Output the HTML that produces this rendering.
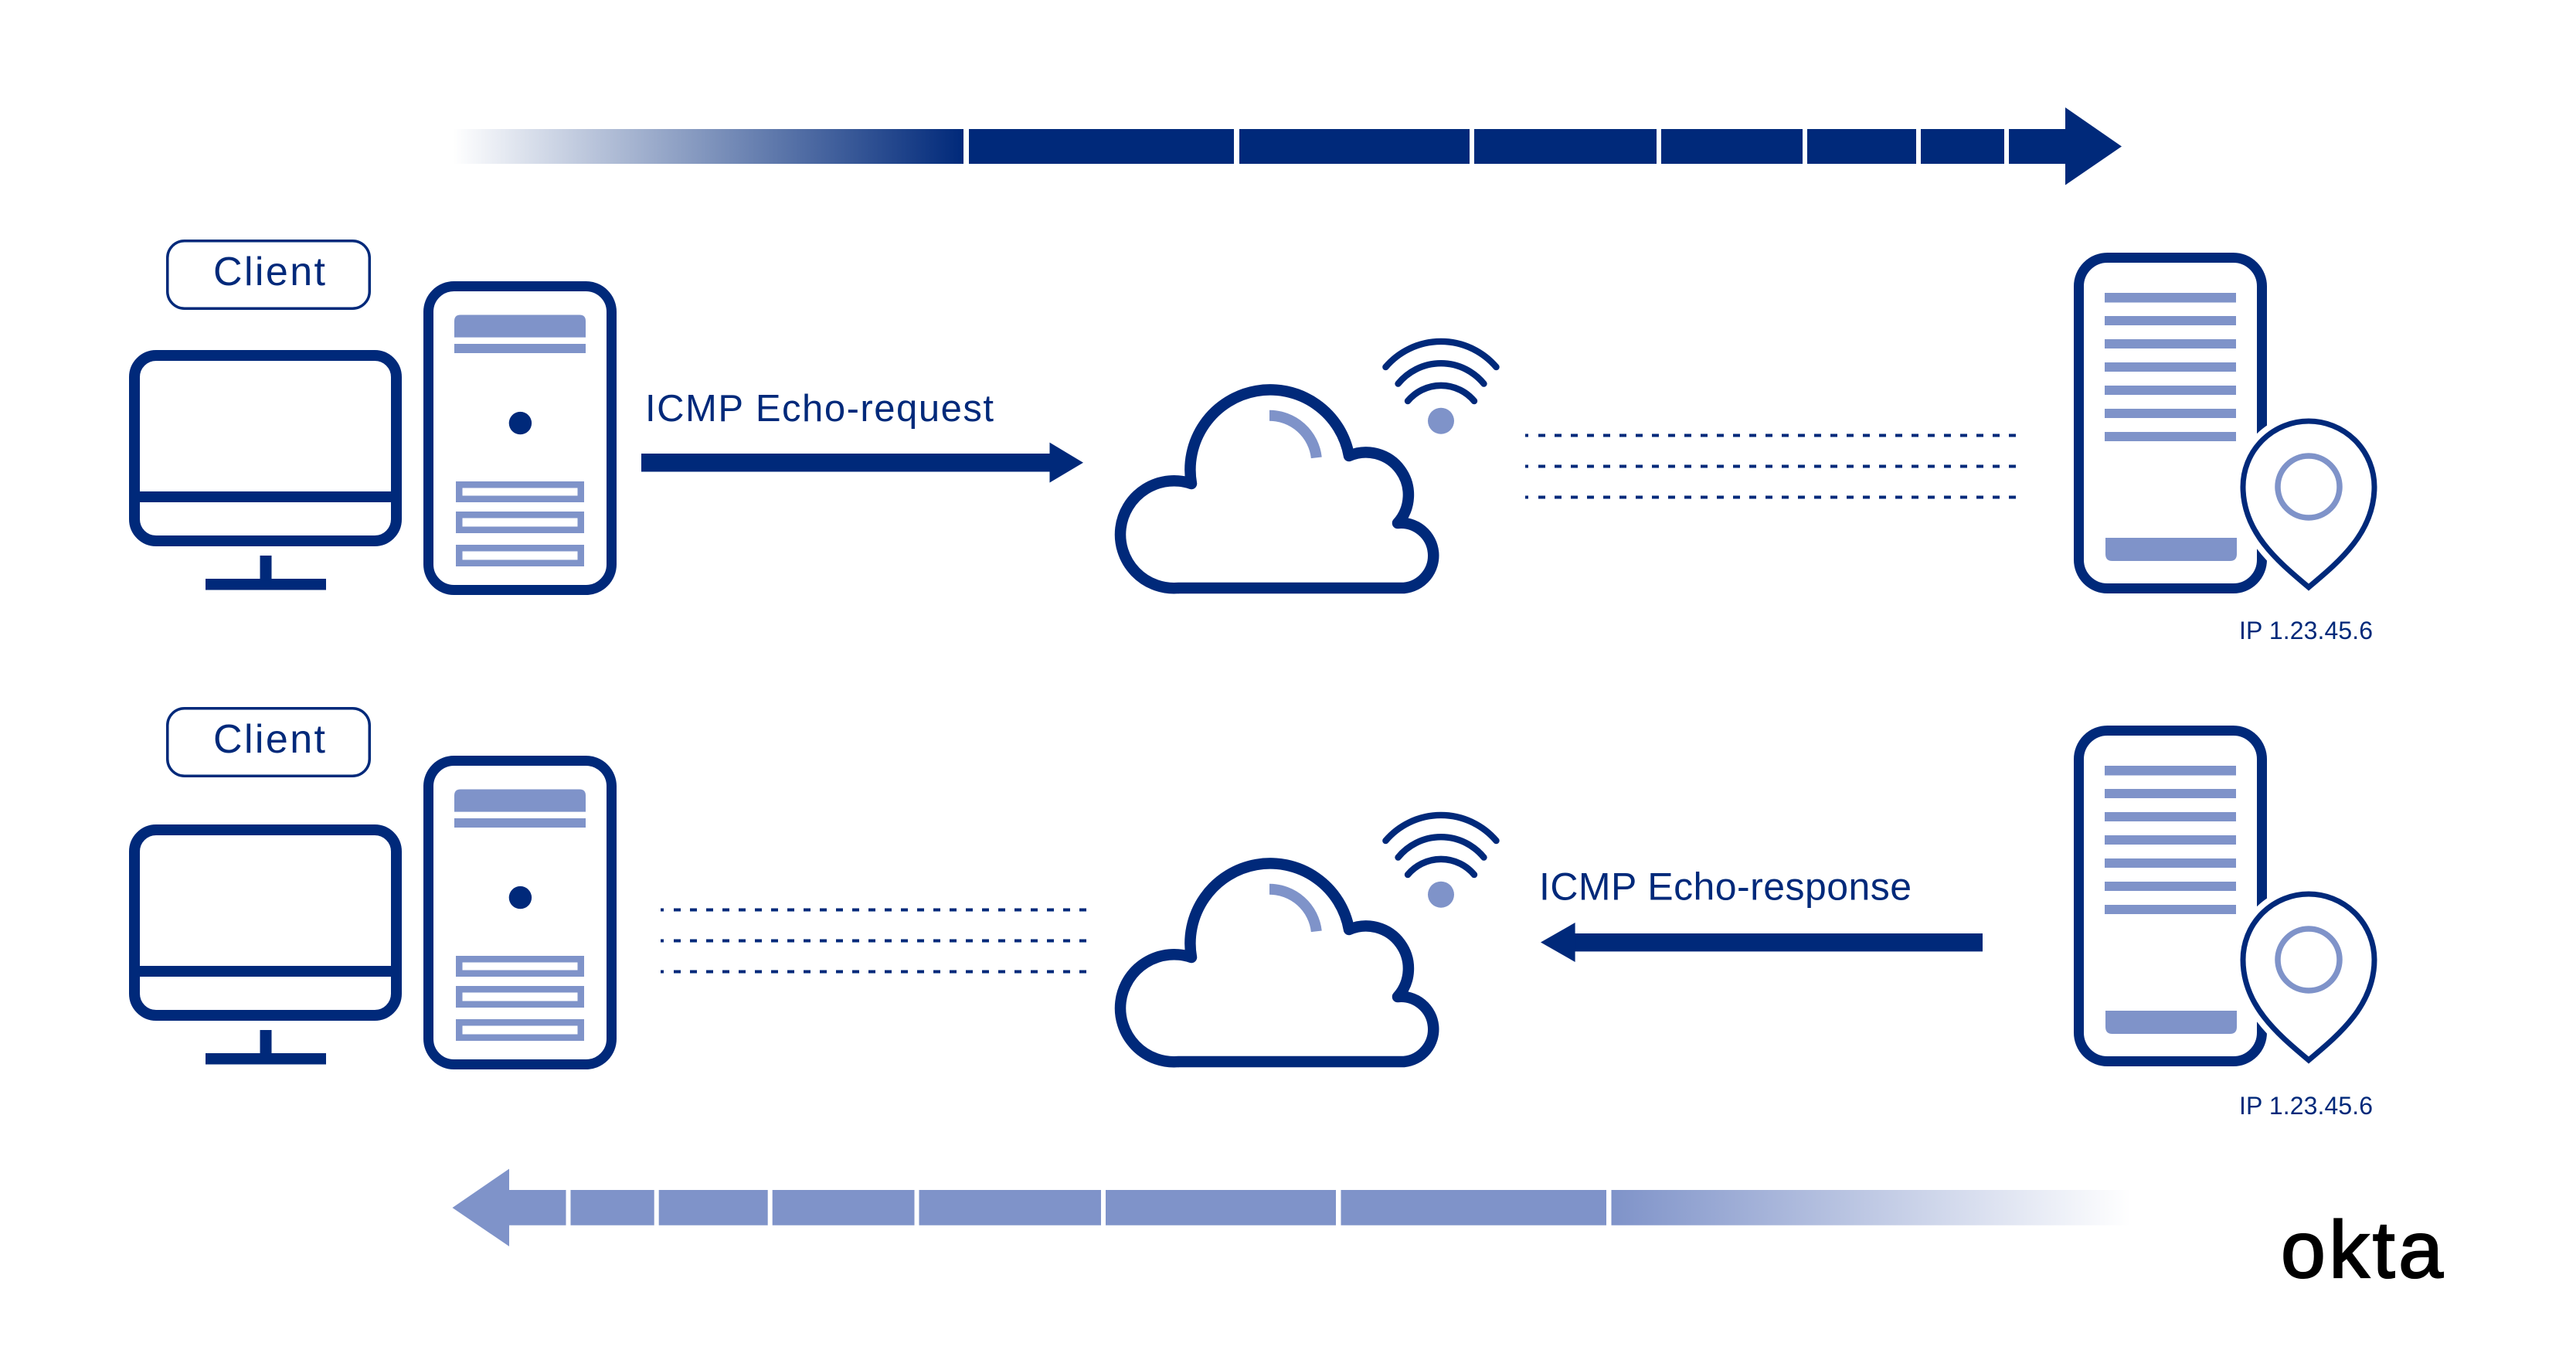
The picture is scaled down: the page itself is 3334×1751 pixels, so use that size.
<!DOCTYPE html>
<html>
<head>
<meta charset="utf-8">
<style>
  html,body{margin:0;padding:0;background:#fff;}
  svg{display:block;}
  text{font-family:"Liberation Sans", Arial, sans-serif;}
</style>
</head>
<body>
<svg width="3334" height="1751" viewBox="0 0 3334 1751" xmlns="http://www.w3.org/2000/svg">
  <defs>
    <linearGradient id="gTop" gradientUnits="userSpaceOnUse" x1="586" y1="0" x2="1247" y2="0">
      <stop offset="0" stop-color="#ffffff"/>
      <stop offset="1" stop-color="#00297a"/>
    </linearGradient>
    <linearGradient id="gBot" gradientUnits="userSpaceOnUse" x1="2086" y1="0" x2="2758" y2="0">
      <stop offset="0" stop-color="#7f93c9"/>
      <stop offset="1" stop-color="#ffffff"/>
    </linearGradient>
  </defs>

  <rect x="0" y="0" width="3334" height="1751" fill="#ffffff"/>

  <!-- ===== Top arrow ===== -->
  <rect x="586" y="167" width="2088" height="45" fill="url(#gTop)"/>
  <polygon points="2673,139 2746,189.5 2673,239.5" fill="#00297a"/>
  <g fill="#ffffff">
    <rect x="1247" y="165" width="7" height="49"/>
    <rect x="1597" y="165" width="7" height="49"/>
    <rect x="1902" y="165" width="6" height="49"/>
    <rect x="2144" y="165" width="6" height="49"/>
    <rect x="2333" y="165" width="6" height="49"/>
    <rect x="2480" y="165" width="6" height="49"/>
    <rect x="2594" y="165" width="6" height="49"/>
  </g>

  <!-- ===== Bottom arrow ===== -->
  <rect x="659" y="1540" width="2100" height="45.7" fill="url(#gBot)"/>
  <polygon points="585.5,1563 659,1512.6 659,1613" fill="#7f93c9"/>
  <g fill="#ffffff">
    <rect x="732.5" y="1538" width="6" height="50"/>
    <rect x="846.7" y="1538" width="6" height="50"/>
    <rect x="993.7" y="1538" width="6" height="50"/>
    <rect x="1183.5" y="1538" width="6" height="50"/>
    <rect x="1425" y="1538" width="6" height="50"/>
    <rect x="1729" y="1538" width="6.5" height="50"/>
    <rect x="2079" y="1538" width="6.5" height="50"/>
  </g>

  <!-- ===== Client row 1 ===== -->
  <g>
    <rect x="216.75" y="311.75" width="261.5" height="87.5" rx="22" ry="22" fill="none" stroke="#00297a" stroke-width="3.5"/>
    <text x="276" y="369" font-size="52" fill="#00297a" textLength="145" lengthAdjust="spacing">Client</text>
  </g>

  <g>
    <rect x="174" y="460" width="339" height="240" rx="28" ry="28" fill="none" stroke="#00297a" stroke-width="14"/>
    <rect x="174" y="636" width="339" height="14" fill="#00297a"/>
    <rect x="336.5" y="719" width="15" height="32" fill="#00297a"/>
    <rect x="266" y="749" width="156" height="14.5" fill="#00297a"/>
    <rect x="554.5" y="370.5" width="237" height="393" rx="33" ry="33" fill="none" stroke="#00297a" stroke-width="13"/>
    <path d="M588 436.6 V415.5 Q588 407.5 596 407.5 H750 Q758 407.5 758 415.5 V436.6 Z" fill="#7f93c9"/>
    <rect x="588" y="445" width="170" height="12" fill="#7f93c9"/>
    <circle cx="673.4" cy="547.6" r="14.7" fill="#00297a"/>
    <g fill="none" stroke="#7f93c9" stroke-width="8.5">
      <rect x="594.25" y="627.25" width="157.5" height="18.5"/>
      <rect x="594.25" y="666.25" width="157.5" height="19.5"/>
      <rect x="594.25" y="709.25" width="157.5" height="19.5"/>
    </g>
  </g>

  <!-- ICMP request -->
  <text x="835" y="545" font-size="49" fill="#00297a" textLength="451" lengthAdjust="spacing">ICMP Echo-request</text>
  <rect x="830" y="587" width="529" height="23.5" fill="#00297a"/>
  <polygon points="1358.5,572.6 1402,598.8 1358.5,624.6" fill="#00297a"/>

  <!-- Cloud row 1 -->
  <g>
    <path d="M1525.5 761 L1817 761 A42 42 0 1 0 1809 677 A55 55 0 0 0 1746 590 A103 103 0 1 0 1542 626 A69.5 69.5 0 1 0 1525.5 761 Z"
          fill="none" stroke="#00297a" stroke-width="14.5" stroke-linejoin="round"/>
    <path d="M1643 537.8 A61.2 61.2 0 0 1 1703.8 592.3" fill="none" stroke="#7f93c9" stroke-width="14"/>
    <g fill="none" stroke="#00297a" stroke-width="8.4" stroke-linecap="round">
      <path d="M1793.4 475 A94 94 0 0 1 1936.5 475"/>
      <path d="M1809.5 496.6 A71.6 71.6 0 0 1 1920.5 496.6"/>
      <path d="M1822 519 A56 56 0 0 1 1908 519"/>
    </g>
    <circle cx="1865" cy="544.7" r="17" fill="#7f93c9"/>
  </g>

  <!-- Dotted lines row 1 -->
  <g stroke="#00297a" stroke-width="4" fill="none">
    <line x1="1974" y1="563.5" x2="1978" y2="563.5"/>
    <line x1="1974" y1="603.5" x2="1978" y2="603.5"/>
    <line x1="1974" y1="643.5" x2="1978" y2="643.5"/>
    <line x1="1991" y1="563.5" x2="2609" y2="563.5" stroke-dasharray="9 12"/>
    <line x1="1991" y1="603.5" x2="2609" y2="603.5" stroke-dasharray="9 12"/>
    <line x1="1991" y1="643.5" x2="2609" y2="643.5" stroke-dasharray="9 12"/>
  </g>

  <!-- Server row 1 -->
  <g>
    <rect x="2690.5" y="333.5" width="237" height="428" rx="37" ry="37" fill="none" stroke="#00297a" stroke-width="13"/>
    <g fill="#7f93c9">
      <rect x="2724" y="379" width="170" height="12.5"/>
      <rect x="2724" y="409" width="170" height="12"/>
      <rect x="2724" y="439" width="170" height="12"/>
      <rect x="2724" y="469" width="170" height="12"/>
      <rect x="2724" y="499" width="170" height="12"/>
      <rect x="2724" y="529" width="170" height="12"/>
      <rect x="2724" y="559" width="170" height="12"/>
      <path d="M2725 696 H2895 V717 Q2895 726 2886 726 H2734 Q2725 726 2725 717 Z"/>
    </g>
    <path d="M2988 760 C2950 728 2903 690 2903 630 A85 85 0 0 1 3073 630 C3073 690 3026 728 2988 760 Z"
          fill="#ffffff" stroke="#ffffff" stroke-width="22" stroke-linejoin="round"/>
    <path d="M2988 760 C2950 728 2903 690 2903 630 A85 85 0 0 1 3073 630 C3073 690 3026 728 2988 760 Z"
          fill="#ffffff" stroke="#00297a" stroke-width="7"/>
    <circle cx="2988" cy="630" r="40" fill="none" stroke="#7f93c9" stroke-width="7.5"/>
    <text x="2898" y="827" font-size="32" fill="#00297a" textLength="173" lengthAdjust="spacing">IP 1.23.45.6</text>
  </g>

  <!-- ===== Row 2 ===== -->
  <g transform="translate(0,605)">
    <rect x="216.75" y="311.75" width="261.5" height="87.5" rx="22" ry="22" fill="none" stroke="#00297a" stroke-width="3.5"/>
    <text x="276" y="369" font-size="52" fill="#00297a" textLength="145" lengthAdjust="spacing">Client</text>
  </g>

  <g transform="translate(0,614)">
    <rect x="174" y="460" width="339" height="240" rx="28" ry="28" fill="none" stroke="#00297a" stroke-width="14"/>
    <rect x="174" y="636" width="339" height="14" fill="#00297a"/>
    <rect x="336.5" y="719" width="15" height="32" fill="#00297a"/>
    <rect x="266" y="749" width="156" height="14.5" fill="#00297a"/>
    <rect x="554.5" y="370.5" width="237" height="393" rx="33" ry="33" fill="none" stroke="#00297a" stroke-width="13"/>
    <path d="M588 436.6 V415.5 Q588 407.5 596 407.5 H750 Q758 407.5 758 415.5 V436.6 Z" fill="#7f93c9"/>
    <rect x="588" y="445" width="170" height="12" fill="#7f93c9"/>
    <circle cx="673.4" cy="547.6" r="14.7" fill="#00297a"/>
    <g fill="none" stroke="#7f93c9" stroke-width="8.5">
      <rect x="594.25" y="627.25" width="157.5" height="18.5"/>
      <rect x="594.25" y="666.25" width="157.5" height="19.5"/>
      <rect x="594.25" y="709.25" width="157.5" height="19.5"/>
    </g>
  </g>

  <!-- Dotted lines row 2 -->
  <g stroke="#00297a" stroke-width="4" fill="none">
    <line x1="855" y1="1177.5" x2="859" y2="1177.5"/>
    <line x1="855" y1="1217.5" x2="859" y2="1217.5"/>
    <line x1="855" y1="1257.5" x2="859" y2="1257.5"/>
    <line x1="872" y1="1177.5" x2="1410" y2="1177.5" stroke-dasharray="9 12"/>
    <line x1="872" y1="1217.5" x2="1410" y2="1217.5" stroke-dasharray="9 12"/>
    <line x1="872" y1="1257.5" x2="1410" y2="1257.5" stroke-dasharray="9 12"/>
  </g>

  <!-- Cloud row 2 -->
  <g transform="translate(0,613)">
    <path d="M1525.5 761 L1817 761 A42 42 0 1 0 1809 677 A55 55 0 0 0 1746 590 A103 103 0 1 0 1542 626 A69.5 69.5 0 1 0 1525.5 761 Z"
          fill="none" stroke="#00297a" stroke-width="14.5" stroke-linejoin="round"/>
    <path d="M1643 537.8 A61.2 61.2 0 0 1 1703.8 592.3" fill="none" stroke="#7f93c9" stroke-width="14"/>
    <g fill="none" stroke="#00297a" stroke-width="8.4" stroke-linecap="round">
      <path d="M1793.4 475 A94 94 0 0 1 1936.5 475"/>
      <path d="M1809.5 496.6 A71.6 71.6 0 0 1 1920.5 496.6"/>
      <path d="M1822 519 A56 56 0 0 1 1908 519"/>
    </g>
    <circle cx="1865" cy="544.7" r="17" fill="#7f93c9"/>
  </g>

  <!-- ICMP response -->
  <text x="1992" y="1164.5" font-size="50" fill="#00297a" textLength="482" lengthAdjust="spacing">ICMP Echo-response</text>
  <rect x="2038" y="1208" width="528" height="23.4" fill="#00297a"/>
  <polygon points="1994,1219.5 2038.6,1194 2038.6,1245" fill="#00297a"/>

  <!-- Server row 2 -->
  <g transform="translate(0,612)">
    <rect x="2690.5" y="333.5" width="237" height="428" rx="37" ry="37" fill="none" stroke="#00297a" stroke-width="13"/>
    <g fill="#7f93c9">
      <rect x="2724" y="379" width="170" height="12.5"/>
      <rect x="2724" y="409" width="170" height="12"/>
      <rect x="2724" y="439" width="170" height="12"/>
      <rect x="2724" y="469" width="170" height="12"/>
      <rect x="2724" y="499" width="170" height="12"/>
      <rect x="2724" y="529" width="170" height="12"/>
      <rect x="2724" y="559" width="170" height="12"/>
      <path d="M2725 696 H2895 V717 Q2895 726 2886 726 H2734 Q2725 726 2725 717 Z"/>
    </g>
    <path d="M2988 760 C2950 728 2903 690 2903 630 A85 85 0 0 1 3073 630 C3073 690 3026 728 2988 760 Z"
          fill="#ffffff" stroke="#ffffff" stroke-width="22" stroke-linejoin="round"/>
    <path d="M2988 760 C2950 728 2903 690 2903 630 A85 85 0 0 1 3073 630 C3073 690 3026 728 2988 760 Z"
          fill="#ffffff" stroke="#00297a" stroke-width="7"/>
    <circle cx="2988" cy="630" r="40" fill="none" stroke="#7f93c9" stroke-width="7.5"/>
  </g>
  <text x="2898" y="1442" font-size="32" fill="#00297a" textLength="173" lengthAdjust="spacing">IP 1.23.45.6</text>

  <!-- okta logo -->
  <text x="2952" y="1653" font-size="104" fill="#000000" stroke="#000000" stroke-width="2.2" textLength="210" lengthAdjust="spacing">okta</text>
</svg>
</body>
</html>
